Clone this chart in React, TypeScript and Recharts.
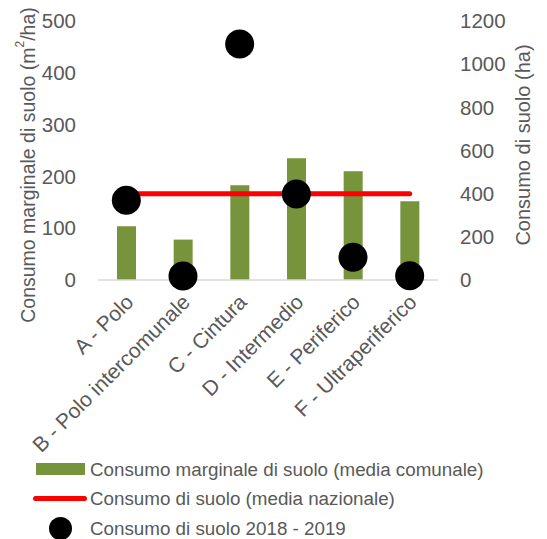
import React from 'react';
import { ComposedChart, Bar, Line, XAxis, YAxis, Label } from 'recharts';

const categories = ['A - Polo', 'B - Polo intercomunale', 'C - Cintura', 'D - Intermedio', 'E - Periferico', 'F - Ultraperiferico'];
const consumoMarginale = [104, 78, 183, 235, 210, 152];
const mediaNazionale = [400, 400, 400, 400, 400, 400];
const consumo20182019 = [370, 19, 1093, 398, 105, 20];
const leftTicks = [0, 100, 200, 300, 400, 500];
const rightTicks = [0, 200, 400, 600, 800, 1000, 1200];

const data = categories.map((c, i) => ({
  name: c,
  marginale: consumoMarginale[i],
  nazionale: mediaNazionale[i],
  consumo: consumo20182019[i],
}));

const FONT = "'Liberation Sans', Arial, sans-serif";
const GREY = '#595959';

const XTick = (props: any) => {
  const { x, y, payload } = props;
  const ax = x - 2;
  const ay = y + 5;
  return (
    <text
      x={ax}
      y={ay}
      transform={`rotate(-45 ${ax} ${ay})`}
      textAnchor="end"
      fill={GREY}
      fontSize={21}
      fontFamily={FONT}
      dy="0.7em"
    >
      {payload.value}
    </text>
  );
};

export default function App() {
  return (
    <div style={{ position: 'absolute', left: 0, top: 0, width: 547, height: 539, background: '#fff' }}>
      <ComposedChart width={547} height={539} data={data} margin={{ top: 21, right: 0, bottom: 0, left: 0 }}>
        <XAxis
          dataKey="name"
          height={259}
          tick={<XTick />}
          tickLine={false}
          axisLine={{ stroke: '#d9d9d9', strokeWidth: 1.5 }}
          interval={0}
          tickMargin={0}
          tickSize={8}
        />
        <YAxis
          yAxisId="left"
          orientation="left"
          width={98}
          domain={[0, 500]}
          ticks={leftTicks}
          axisLine={false}
          tickLine={false}
          tickSize={0}
          tickMargin={22}
          tick={{ fill: GREY, fontSize: 20.5, fontFamily: FONT }}
        >
          <Label
            content={() => (
              <text
                x={28}
                y={165}
                transform="rotate(-90 28 165)"
                textAnchor="middle"
                dominantBaseline="central"
                fill={GREY}
                fontSize={19.5}
                fontFamily={FONT}
              >
                Consumo marginale di suolo (m<tspan fontSize={12} dy={-8}>2</tspan><tspan dy={8}>/ha)</tspan>
              </text>
            )}
          />
        </YAxis>
        <YAxis
          yAxisId="right"
          orientation="right"
          width={109}
          domain={[0, 1200]}
          ticks={rightTicks}
          axisLine={false}
          tickLine={false}
          tickSize={0}
          tickMargin={22}
          tick={{ fill: GREY, fontSize: 20.5, fontFamily: FONT, textAnchor: 'start' }}
        >
          <Label
            content={() => (
              <text
                x={523}
                y={145}
                transform="rotate(-90 523 145)"
                textAnchor="middle"
                dominantBaseline="central"
                fill={GREY}
                fontSize={20}
                fontFamily={FONT}
              >
                Consumo di suolo (ha)
              </text>
            )}
          />
        </YAxis>
        <Bar yAxisId="left" dataKey="marginale" fill="#77933C" barSize={19} isAnimationActive={false} />
        <Line
          yAxisId="right"
          dataKey="nazionale"
          stroke="#FF0000"
          strokeWidth={5}
          strokeLinecap="round"
          dot={false}
          activeDot={false}
          isAnimationActive={false}
        />
        <Line
          yAxisId="right"
          dataKey="consumo"
          stroke="none"
          strokeWidth={0}
          dot={{ r: 14.5, fill: '#000', stroke: 'none' }}
          activeDot={false}
          isAnimationActive={false}
        />
      </ComposedChart>
      <div style={{ position: 'absolute', left: 0, top: 455, width: 547, fontFamily: FONT, fontSize: 18.8, color: GREY }}>
        <div style={{ position: 'absolute', left: 36, top: 8, width: 49, height: 12, background: '#77933C' }} />
        <div style={{ position: 'absolute', left: 90, top: 3, whiteSpace: 'nowrap', lineHeight: '24px' }}>Consumo marginale di suolo (media comunale)</div>
        <div style={{ position: 'absolute', left: 33, top: 41, width: 54, height: 5, borderRadius: 3, background: '#FF0000' }} />
        <div style={{ position: 'absolute', left: 90, top: 32, whiteSpace: 'nowrap', lineHeight: '24px' }}>Consumo di suolo (media nazionale)</div>
        <div style={{ position: 'absolute', left: 49, top: 62, width: 23, height: 23, borderRadius: '50%', background: '#000' }} />
        <div style={{ position: 'absolute', left: 90, top: 62, whiteSpace: 'nowrap', lineHeight: '24px' }}>Consumo di suolo 2018 - 2019</div>
      </div>
    </div>
  );
}
